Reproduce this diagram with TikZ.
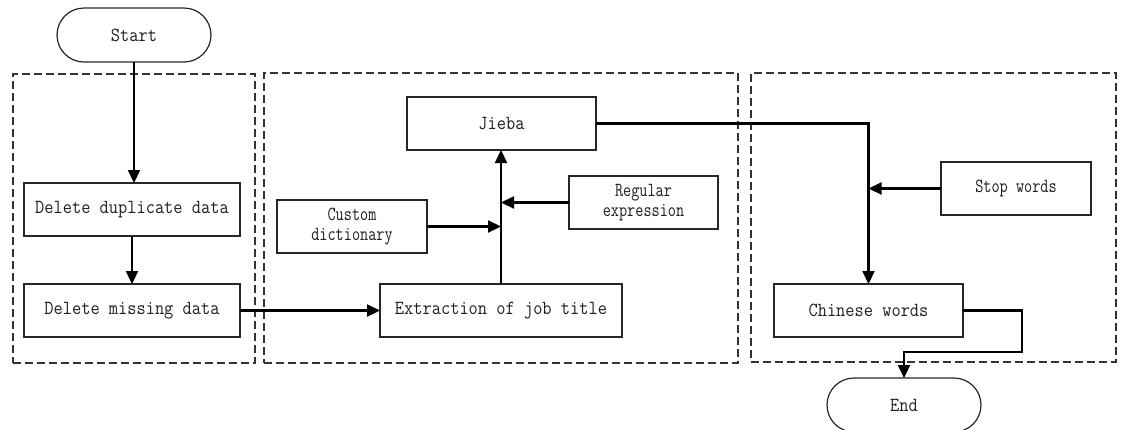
\documentclass[tikz,border=0pt]{standalone}
\usepackage{fontspec}
\newfontfamily\bigmono{Latin Modern Mono}[FakeStretch=0.895]
\newfontfamily\smallmono{Latin Modern Mono}[FakeStretch=0.79]
\usetikzlibrary{arrows.meta}
\begin{document}
\begin{tikzpicture}[x=1pt,y=-1pt,
  every node/.style={inner sep=0pt, outer sep=0pt},
  txt/.style={text=black!88, font=\bigmono\fontsize{20}{20}\selectfont},
  smalltxt/.style={text=black!88, font=\smallmono\fontsize{20}{20}\selectfont, align=center},
  proc/.style={draw=black!85, line width=1.2pt, rectangle},
  term/.style={draw=black!85, line width=1.2pt, rectangle, rounded corners=27pt, minimum width=154pt, minimum height=54pt},
  group/.style={draw=black!80, line width=1.1pt, dash pattern=on 8pt off 4pt, rectangle},
  arr/.style={draw=black, line width=2.2pt, -{Triangle[length=13pt,width=12pt]}}
]
\useasboundingbox (0,0) rectangle (1122,429);
\clip (0,0) rectangle (1122,429);
% dashed groups
\node[group, minimum width=242pt, minimum height=289pt] (g1) at (134,218.5) {};
\node[group, minimum width=474pt, minimum height=290pt] (g2) at (501,218) {};
\node[group, minimum width=365pt, minimum height=289pt] (g3) at (933.5,217.5) {};
% terminals
\node[term, txt] (start) at (134,35) {Start};
\node[term, txt] (end) at (904,405) {End};
% process boxes
\node[proc, txt, minimum width=216pt, minimum height=53pt] (dup) at (132,209.5) {Delete duplicate data};
\node[proc, txt, minimum width=216pt, minimum height=53pt] (miss) at (132,310.5) {Delete missing data};
\node[proc, txt, minimum width=242pt, minimum height=53pt] (ext) at (501,310.5) {Extraction of job title};
\node[proc, txt, minimum width=189pt, minimum height=53pt] (jieba) at (501.5,123.5) {Jieba};
\node[proc, smalltxt, minimum width=150pt, minimum height=53pt] (cd) at (352,226.5) {Custom\\dictionary};
\node[proc, smalltxt, minimum width=149pt, minimum height=53pt] (re) at (643.5,202.5) {Regular\\expression};
\node[proc, smalltxt, minimum width=150pt, minimum height=53pt] (sw) at (1016,188.5) {Stop words};
\node[proc, txt, minimum width=189pt, minimum height=53pt] (cw) at (868.5,310.5) {Chinese words};
% corner coordinate
\coordinate (c1) at (1022,352);
% connectors
\draw[arr] (start.south) -- (start.south |- dup.north);
\draw[arr] (dup.south) -- (miss.north);
\draw[arr] (miss.east) -- (miss.east -| ext.west);
\draw[arr] (ext.north) -- (ext.north |- jieba.south);
\draw[arr] (cd.east) -- (cd.east -| ext.north);
\draw[arr] (re.west) -- (re.west -| ext.north);
\draw[arr] (jieba.east) -| (cw.north);
\draw[arr] (sw.west) -- (sw.west -| cw.north);
\draw[arr] (cw.east) -| (c1) -| (end.north);
\end{tikzpicture}
\end{document}
